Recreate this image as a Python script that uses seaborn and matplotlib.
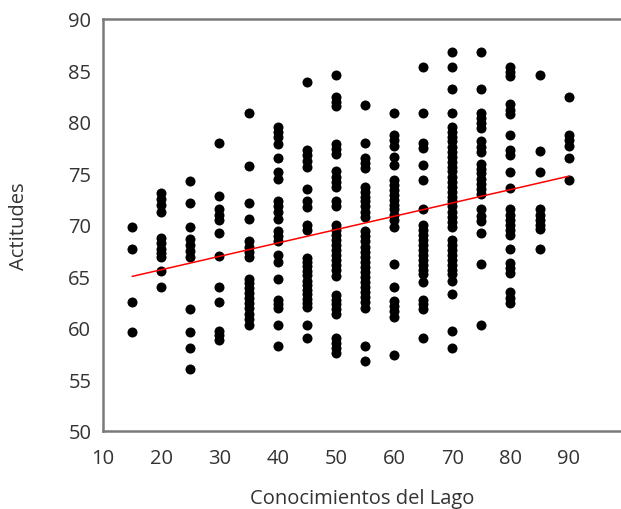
import numpy as np
import pandas as pd
import matplotlib
matplotlib.use('Agg')
import matplotlib.pyplot as plt
import seaborn as sns

# Actitudes, one list per level of Conocimientos del Lago
act_15 = [69.8, 67.7, 62.5, 59.6]
act_20 = [73.1, 72.5, 71.9, 71.3, 68.7, 68.2, 67.7, 67.3, 66.9, 65.5, 64.0]
act_25 = [74.3, 72.1, 69.8, 68.6, 68.1, 67.5, 66.9, 61.8, 59.6, 58.1, 56.0]
act_30 = [78.0, 72.8, 71.5, 71.0, 70.5, 69.2, 67.0, 64.0, 62.5, 59.7, 59.3, 58.8]
act_35 = [80.9, 75.7, 72.1, 70.6, 68.4, 67.9, 67.4, 66.9, 64.8, 64.4, 63.9, 63.4,
          62.9, 62.4, 61.9, 61.4, 60.9, 60.3]
act_40 = [79.5, 79.0, 78.5, 77.9, 76.5, 75.1, 74.5, 72.3, 71.8, 71.3, 70.6, 69.4,
          68.9, 68.4, 67.1, 66.4, 64.8, 62.7, 62.3, 61.9, 60.3, 58.2]
act_45 = [83.9, 77.3, 76.8, 76.2, 75.6, 73.5, 72.3, 71.7, 70.0, 69.5, 66.8, 66.4,
          66.0, 65.5, 65.1, 64.6, 64.2, 63.7, 63.3, 62.8, 62.4, 62.0, 60.3, 59.0]
act_50 = [84.6, 82.4, 81.9, 81.5, 77.9, 77.4, 76.9, 75.2, 74.7, 74.2, 73.7, 72.3,
          71.8, 70.0, 69.5, 69.0, 68.5, 68.1, 67.6, 67.1, 66.6, 66.1, 65.6, 65.0,
          63.2, 62.7, 62.3, 61.8, 61.4, 59.0, 58.5, 58.1, 57.6]
act_55 = [81.6, 78.0, 76.5, 76.0, 75.5, 73.7, 73.2, 72.7, 72.3, 71.8, 71.3, 70.8,
          69.4, 68.9, 68.4, 67.9, 67.4, 66.9, 66.4, 65.9, 65.4, 64.9, 64.5, 64.0,
          63.5, 63.0, 62.5, 61.9, 58.2, 56.8]
act_60 = [80.9, 78.7, 78.2, 77.7, 76.6, 75.8, 74.4, 73.9, 73.4, 72.9, 72.4, 71.9,
          71.5, 71.0, 70.5, 69.8, 66.2, 64.0, 62.6, 62.1, 61.6, 61.1, 57.4]
act_65 = [85.3, 80.9, 78.0, 77.5, 75.8, 74.4, 71.5, 70.0, 69.5, 69.0, 68.5, 68.1,
          67.6, 67.1, 66.6, 66.1, 65.6, 65.2, 64.5, 62.7, 62.3, 61.8, 59.0]
act_70 = [86.8, 85.3, 83.2, 80.9, 79.5, 79.0, 78.5, 78.1, 77.6, 77.1, 76.6, 76.1,
          75.6, 75.2, 74.7, 74.2, 73.7, 73.2, 72.7, 72.3, 71.8, 71.3, 70.8, 70.3,
          69.8, 68.5, 68.1, 67.6, 67.1, 66.6, 66.1, 65.6, 65.2, 64.6, 63.3, 59.7, 58.1]
act_75 = [86.8, 83.2, 80.9, 80.4, 79.9, 79.4, 78.1, 77.6, 77.1, 75.9, 75.4, 75.0,
          74.5, 74.0, 73.5, 73.0, 71.5, 70.9, 70.4, 69.2, 66.2, 60.3]
act_80 = [85.3, 84.8, 84.5, 81.7, 81.2, 80.8, 78.7, 77.3, 76.8, 75.1, 73.6, 71.5,
          71.0, 70.5, 70.0, 69.5, 69.0, 67.7, 66.3, 65.8, 65.3, 63.5, 62.9, 62.4]
act_85 = [84.6, 77.2, 75.1, 71.5, 71.0, 70.5, 70.0, 69.6, 67.7]
act_90 = [82.4, 78.7, 78.2, 77.7, 76.5, 74.4]

niveles = [15, 20, 25, 30, 35, 40, 45, 50, 55, 60, 65, 70, 75, 80, 85, 90]
grupos = [act_15, act_20, act_25, act_30, act_35, act_40, act_45, act_50,
          act_55, act_60, act_65, act_70, act_75, act_80, act_85, act_90]

df = pd.DataFrame({
    'Conocimientos del Lago': np.repeat(niveles, [len(g) for g in grupos]),
    'Actitudes': np.concatenate(grupos),
})

sns.set_style('white')
plt.rcParams['font.family'] = ['Open Sans', 'DejaVu Sans']

fig = plt.figure(figsize=(6.21, 5.10), dpi=100)
ax = fig.add_axes([0.166, 0.153, 0.834, 0.808])

sns.regplot(data=df, x='Conocimientos del Lago', y='Actitudes', ci=None, ax=ax,
            scatter_kws={'s': 52, 'color': 'black', 'linewidths': 0, 'alpha': 1},
            line_kws={'color': 'red', 'linewidth': 1.1})

ax.set_xlim(10, 99)
ax.set_ylim(50, 90)
ax.set_xticks(np.arange(10, 91, 10))
ax.set_yticks(np.arange(50, 91, 5))

for side in ['left', 'bottom', 'top']:
    ax.spines[side].set_color('#7a7a7a')
    ax.spines[side].set_linewidth(1.8)
ax.spines['right'].set_visible(False)

ax.tick_params(axis='both', colors='#7a7a7a', width=1.6, labelcolor='#333333',
               labelsize=14.5, direction='out')
ax.tick_params(axis='x', length=7, pad=5)
ax.tick_params(axis='y', length=5.5, pad=3)

ax.set_xlabel('Conocimientos del Lago', fontsize=14.5, color='#333333', labelpad=15)
ax.set_ylabel('Actitudes', fontsize=14.5, color='#333333', labelpad=28)

fig.savefig('out.png', dpi=100)
